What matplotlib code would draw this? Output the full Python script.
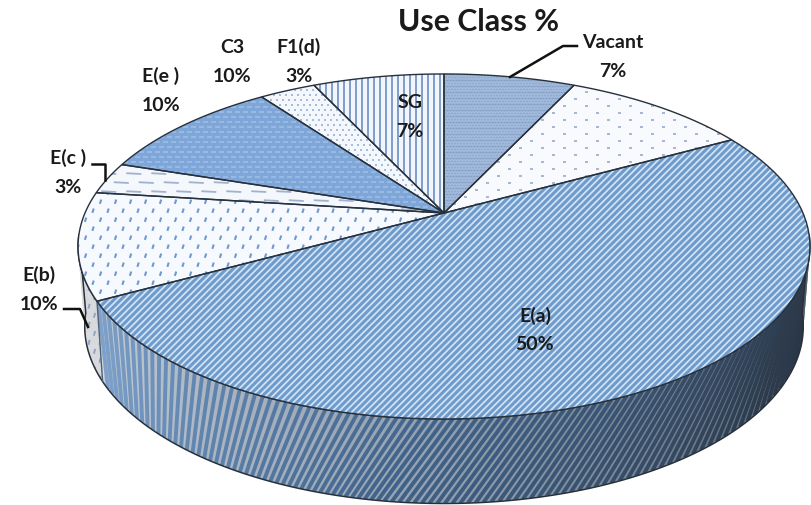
import numpy as np
from matplotlib import pyplot as plt
from matplotlib.patches import Polygon
from matplotlib.collections import LineCollection

# clockwise from 12 o'clock
names = ['Vacant', 'C3', 'E(a)', 'E(b)', 'E(c )', 'E(e )', 'F1(d)', 'SG']
values = [7, 10, 50, 10, 3, 10, 3, 7]

label_names = ['Vacant', 'E(a)', 'E(b)', 'E(c )', 'E(e )', 'C3', 'F1(d)', 'SG']
label_values = ['7%', '50%', '10%', '3%', '10%', '10%', '3%', '7%']
label_x = [613, 535, 39, 68, 161, 232, 299, 410]
label_y = [42, 316, 275, 158, 76, 47, 47, 102]

plt.rcParams['font.family'] = ['Lato', 'DejaVu Sans']
INK = '#27313c'


def project(pct, cy=214, a=359, s=166, k=0.194):
    # tilted circle: the pie centre is not the centre of the ellipse on screen
    t = np.radians(np.asarray(pct, dtype=float) * 3.6)
    u, v = np.sin(t), np.cos(t)
    w = 1 + k * v
    return 444 + a * u / w, cy - s * v / w


def project_low(pct):
    return project(pct, cy=292, a=352, s=170, k=0.2)


def stripes(ax, patch, period, slope, color, lw):
    xy = patch.get_xy()
    x0, x1 = xy[:, 0].min(), xy[:, 0].max()
    y0, y1 = xy[:, 1].min(), xy[:, 1].max()
    span = abs(slope) * (y1 - y0)
    segs = []
    for c in np.arange(x0 - span - period, x1 + span + period, period):
        segs.append([(c + span, y0), (c, y1)])
    lc = LineCollection(segs, colors=color, linewidths=lw, zorder=patch.get_zorder() + 0.1)
    ax.add_collection(lc)
    lc.set_clip_path(patch)


def dashes(ax, patch, dx, dy, length, angle, color, lw):
    xy = patch.get_xy()
    x0, x1 = xy[:, 0].min(), xy[:, 0].max()
    y0, y1 = xy[:, 1].min(), xy[:, 1].max()
    ca, sa = np.cos(np.radians(angle)), np.sin(np.radians(angle))
    segs = []
    row = 0
    for y in np.arange(y0, y1 + dy, dy):
        for x in np.arange(x0 - dx + (row % 2) * dx / 2, x1 + dx, dx):
            segs.append([(x - ca * length / 2, y + sa * length / 2),
                         (x + ca * length / 2, y - sa * length / 2)])
        row += 1
    lc = LineCollection(segs, colors=color, linewidths=lw, zorder=patch.get_zorder() + 0.1)
    ax.add_collection(lc)
    lc.set_clip_path(patch)


def side_shade(pct):
    # light on the left of the rim, almost black on the right
    p = [26, 33, 50, 60, 67, 67.01, 74]
    r = np.interp(pct, p, [0x4a, 0x55, 0x92, 0xae, 0xc8, 0xd6, 0xdc])
    g = np.interp(pct, p, [0x56, 0x62, 0xa0, 0xb8, 0xd0, 0xd8, 0xdc])
    b = np.interp(pct, p, [0x64, 0x70, 0xae, 0xc4, 0xd8, 0xdc, 0xde])
    return (r / 255, g / 255, b / 255)


def stripe_shade(pct):
    p = [26, 33, 50, 60, 67]
    r = np.interp(pct, p, [0x2a, 0x2e, 0x40, 0x62, 0x80])
    g = np.interp(pct, p, [0x35, 0x3c, 0x62, 0x88, 0xa2])
    b = np.interp(pct, p, [0x44, 0x4e, 0x8a, 0xb2, 0xca])
    return (r / 255, g / 255, b / 255)


fig = plt.figure(figsize=(8.12, 5.06), dpi=100)
ax = fig.add_axes([0, 0, 1, 1])
ax.set_xlim(0, 812)
ax.set_ylim(506, 0)
ax.axis('off')

edges = np.concatenate([[0], np.cumsum(values)])

# rim of the pie, only the part that faces the viewer
side_start, side_end = 27.0, 73.0
ea_end = edges[3]
steps = np.linspace(side_start, side_end, 60)
for p0, p1 in zip(steps[:-1], steps[1:]):
    g = np.linspace(p0, p1 + 0.05, 5)
    xt, yt = project(g)
    xb, yb = project_low(g)
    pts = np.column_stack([np.r_[xt, xb[::-1]], np.r_[yt, yb[::-1]]])
    ax.add_patch(Polygon(pts, closed=True, fc=side_shade((p0 + p1) / 2), ec='none', zorder=1))

whole = np.linspace(side_start, side_end, 200)
xt, yt = project(whole)
xb, yb = project_low(whole)
rim = Polygon(np.column_stack([np.r_[xt, xb[::-1]], np.r_[yt, yb[::-1]]]), closed=True,
              fc='none', ec=INK, lw=1.1, zorder=3)
ax.add_patch(rim)

# rim stripes follow the surface, so they lean differently around the pie
ea_part = np.linspace(side_start, ea_end, 200)
xe, ye = project(ea_part)
run = np.r_[0, np.cumsum(np.hypot(np.diff(xe), np.diff(ye)))]
segs, cols = [], []
for d in np.arange(0, run[-1], 8.0):
    p = np.interp(d, run, ea_part)
    lean = np.interp(p, [27, 50, 60, 67], [3.2, 2.2, 0.6, -0.5])
    x0, y0 = project(p)
    x1, y1 = project_low(p + lean)
    segs.append([(x0, y0), (x1, y1)])
    cols.append(stripe_shade(p))

ea_side = np.column_stack([np.r_[xe, project_low(ea_part)[0][::-1]],
                           np.r_[ye, project_low(ea_part)[1][::-1]]])
ea_clip = Polygon(ea_side, closed=True, fc='none', ec='none', zorder=1.5)
ax.add_patch(ea_clip)
lc = LineCollection(segs, colors=cols, linewidths=2.8, zorder=2)
ax.add_collection(lc)
lc.set_clip_path(ea_clip)

eb_part = np.linspace(ea_end, side_end, 40)
eb_side = np.column_stack([np.r_[project(eb_part)[0], project_low(eb_part)[0][::-1]],
                           np.r_[project(eb_part)[1], project_low(eb_part)[1][::-1]]])
eb_clip = Polygon(eb_side, closed=True, fc='none', ec='none', zorder=1.5)
ax.add_patch(eb_clip)
dashes(ax, eb_clip, 11, 9, 5, 75, '#8fa6c4', 1.4)

x0, y0 = project(ea_end)
x1, y1 = project_low(ea_end)
ax.plot([x0, x1], [y0, y1], color='#4d6078', lw=1.0, zorder=3)

# top face
fills = ['#a2bbdc', '#f8fafd', '#d2e4f6', '#f6f9fe', '#f4f7fc', '#7fa6d8', '#f4f7fc', '#f2f6fc']
patches = []
for i in range(len(values)):
    arc = np.linspace(edges[i], edges[i + 1], 80)
    xa, ya = project(arc)
    pts = np.column_stack([np.r_[444, xa], np.r_[214, ya]])
    patch = Polygon(pts, closed=True, fc=fills[i], ec='none', zorder=4)
    ax.add_patch(patch)
    patches.append(patch)

dashes(ax, patches[0], 3, 3, 1.2, 0, '#7f9cc4', 1.0)
dashes(ax, patches[1], 22, 7, 3, 0, '#98aacb', 1.2)
stripes(ax, patches[2], 6.8, 1.0, '#6e9bcb', 2.2)
dashes(ax, patches[3], 15, 9, 4.5, 72, '#7099ce', 1.5)
dashes(ax, patches[4], 25, 9, 15, -3, '#9fb2cf', 1.3)
dashes(ax, patches[5], 8, 5, 5, 0, '#a2c0e4', 1.1)
dashes(ax, patches[6], 6, 5, 1.8, 0, '#a4bbdb', 1.4)
stripes(ax, patches[7], 6, 0, '#7d9ec9', 1.4)

for i, patch in enumerate(patches):
    ax.add_patch(Polygon(patch.get_xy(), closed=True, fc='none', ec=INK, lw=1.0, zorder=5))

# leader lines
ax.plot([577, 563, 510], [47, 47, 78], color='#111111', lw=1.8, zorder=6)
ax.plot([92, 105, 105], [165, 165, 181], color='#111111', lw=1.8, zorder=6)
ax.plot([64, 80, 88], [310, 310, 328], color='#111111', lw=1.8, zorder=6)

for name, val, x, y in zip(label_names, label_values, label_x, label_y):
    ax.text(x, y, name, ha='center', va='center', fontsize=14, fontweight='bold',
            color='#1a1a1a', zorder=7)
    ax.text(x, y + 29, val, ha='center', va='center', fontsize=14, fontweight='bold',
            color='#1a1a1a', zorder=7)

ax.text(479, 22, 'Use Class %', ha='center', va='center', fontsize=21.8, fontweight='bold',
        color='#1a1a1a', zorder=7)

plt.savefig('out.png', dpi=100)
plt.close()
